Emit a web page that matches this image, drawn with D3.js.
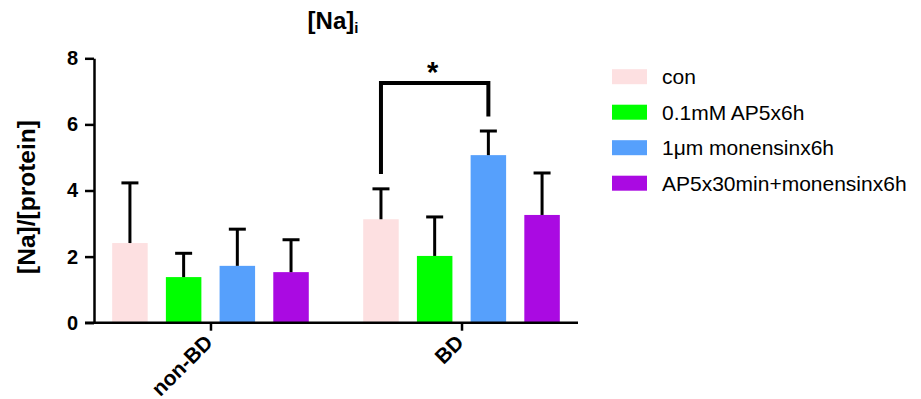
<!DOCTYPE html>
<html><head><meta charset="utf-8">
<script src="https://cdn.jsdelivr.net/npm/d3@7"></script>
<style>html,body{margin:0;padding:0;background:#fff;}svg{display:block;font-family:"Liberation Sans",Arial,sans-serif;}</style>
</head><body>
<svg id="c" width="921" height="399"></svg>
<script>
const groups = ["non-BD", "BD"];
const seriesNames = ["con", "0.1mM AP5x6h", "1μm monensinx6h", "AP5x30min+monensinx6h"];
const seriesColors = ["#fde0e1", "#00ff00", "#56a0fc", "#aa0ae2"];
const conMean = [2.41, 3.13];
const conErr = [1.82, 0.92];
const ap5Mean = [1.38, 2.02];
const ap5Err = [0.72, 1.18];
const monMean = [1.72, 5.07];
const monErr = [1.11, 0.73];
const comboMean = [1.53, 3.26];
const comboErr = [0.98, 1.27];
const yTicks = [0, 2, 4, 6, 8];
const sigBracket = {group: "BD", from: 0, to: 2, leftY: 4.5, rightY: 6.24, topY: 7.25, label: "*"};

const means = [conMean, ap5Mean, monMean, comboMean];
const errs = [conErr, ap5Err, monErr, comboErr];

const svg = d3.select("#c");
const y = d3.scaleLinear().domain([0, 8]).range([322.7, 58.3]);
const x = d3.scalePoint().domain(groups).range([94, 578]).padding(0.464);
const xi = d3.scaleBand().domain(d3.range(seriesNames.length)).range([-98.3, 98.3]).paddingInner(0.339).paddingOuter(0);

// bars
const data = [];
groups.forEach((g, gi) => seriesNames.forEach((s, si) => data.push({g, si, m: means[si][gi], e: errs[si][gi]})));
svg.append("g").selectAll("rect").data(data).join("rect")
  .attr("x", d => x(d.g) + xi(d.si))
  .attr("width", xi.bandwidth())
  .attr("y", d => y(d.m))
  .attr("height", d => y(0) - y(d.m))
  .attr("fill", d => seriesColors[d.si]);

// error bars
const eb = svg.append("g").attr("stroke", "#000").attr("stroke-width", 3);
data.forEach(d => {
  const cx = x(d.g) + xi(d.si) + xi.bandwidth() / 2;
  eb.append("line").attr("x1", cx).attr("x2", cx).attr("y1", y(d.m)).attr("y2", y(d.m + d.e));
  eb.append("line").attr("x1", cx - 8.5).attr("x2", cx + 8.5).attr("y1", y(d.m + d.e)).attr("y2", y(d.m + d.e));
});

// axes
const yAxis = svg.append("g").attr("transform", "translate(94,0)")
  .call(d3.axisLeft(y).tickValues(yTicks).tickSize(9).tickSizeOuter(0).tickPadding(7));
yAxis.select(".domain").attr("stroke-width", 2.5);
yAxis.selectAll(".tick line").attr("stroke-width", 2.5);
yAxis.selectAll("text").attr("font-size", 20).attr("font-weight", "bold").attr("fill", "#000")
  .attr("font-family", "Liberation Sans, Arial, sans-serif");

const xAxis = svg.append("g").attr("transform", "translate(0,322.7)")
  .call(d3.axisBottom(x).tickSize(8).tickSizeOuter(0));
xAxis.select(".domain").attr("d", "M85,0H578").attr("stroke-width", 2.5);
xAxis.selectAll(".tick line").attr("stroke-width", 2.5);
xAxis.selectAll("text").attr("font-size", 21).attr("font-weight", "bold").attr("fill", "#000")
  .attr("font-family", "Liberation Sans, Arial, sans-serif")
  .attr("text-anchor", "end").attr("x", 0).attr("y", 0).attr("dy", 0)
  .attr("transform", "translate(3,21) rotate(-45)");

// significance bracket
const bx1 = x(sigBracket.group) + xi(sigBracket.from) + xi.bandwidth() / 2;
const bx2 = x(sigBracket.group) + xi(sigBracket.to) + xi.bandwidth() / 2;
svg.append("path")
  .attr("d", `M${bx1},${y(sigBracket.leftY)}V${y(sigBracket.topY)}H${bx2}V${y(sigBracket.rightY)}`)
  .attr("fill", "none").attr("stroke", "#000").attr("stroke-width", 4);
svg.append("text").attr("x", (bx1 + bx2) / 2 - 2).attr("y", 82)
  .attr("text-anchor", "middle").attr("font-size", 29).attr("font-weight", "bold").text(sigBracket.label);

// title
const t = svg.append("text").attr("x", 333).attr("y", 29).attr("text-anchor", "middle")
  .attr("font-size", 24).attr("font-weight", "bold");
t.append("tspan").text("[Na]");
t.append("tspan").attr("font-size", 15).attr("dy", 4).text("i");

// y label
svg.append("text").attr("transform", "translate(35,197) rotate(-90)").attr("text-anchor", "middle")
  .attr("font-size", 24.5).attr("font-weight", "bold").text("[Na]/[protein]");

// legend
const lg = svg.append("g");
seriesNames.forEach((s, i) => {
  const cy = 76.7 + i * 35.5;
  lg.append("rect").attr("x", 612).attr("y", cy - 7.5).attr("width", 35).attr("height", 15).attr("fill", seriesColors[i]);
  lg.append("text").attr("x", 662).attr("y", cy + 7.5).attr("font-size", 21).attr("fill", "#000").text(s);
});
</script>
</body></html>
